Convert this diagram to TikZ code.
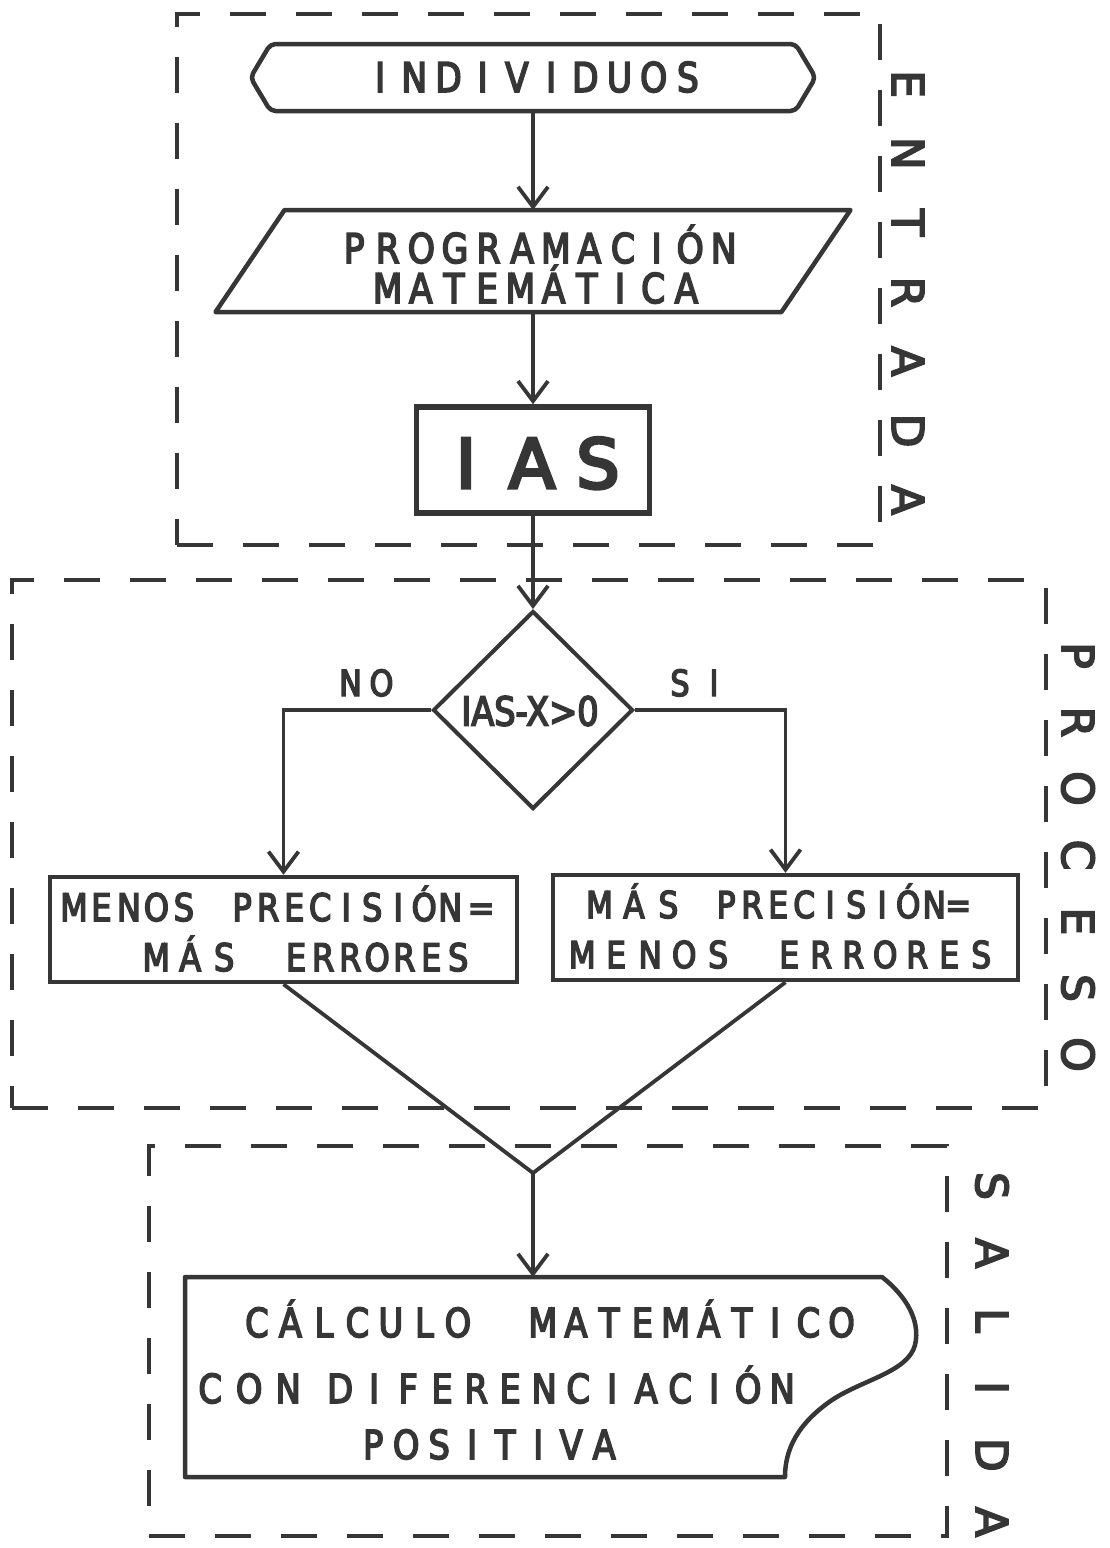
\documentclass[tikz,border=0pt]{standalone}
\usepackage{fontspec}
\usetikzlibrary{arrows.meta,shapes.geometric,calc}
\newfontfamily\lett[FakeStretch=0.84,FakeBold=4]{DejaVu Sans}
\newfontfamily\wide[FakeBold=4]{DejaVu Sans}
\newfontfamily\heavy[FakeBold=5]{DejaVu Sans}
\definecolor{ink}{HTML}{363636}
\newcommand\ev[2]{\def\pitchw{#1}\evloop#2\relax}
\def\evloop#1{\ifx#1\relax\else\hbox to \pitchw{\hss#1\hss}\expandafter\evloop\fi}
\tikzset{
  shapeline/.style={draw=ink, line width=4.5pt, line join=round},
  conn/.style={draw=ink, line width=3.8pt, -{Straight Barb[length=20pt,width=30pt]}},
  plain/.style={draw=ink, line width=3.8pt},
  dashbox/.style={draw=ink, line width=3.2pt, dash pattern=on 36pt off 30pt, inner sep=0pt},
  ghost/.style={inner sep=0pt, outer sep=0pt},
  txt/.style={inner sep=0pt, text=ink},
  vlabel/.style={rotate=-90, inner sep=0pt, text=ink, font=\wide\fontsize{44}{44}\selectfont},
}
\begin{document}
\begin{tikzpicture}[x=1pt, y=-1pt]
\useasboundingbox (0,0) rectangle (1110,1548);
\fill[white] (0,0) rectangle (1110,1548);

% regions
\node[dashbox, minimum width=703pt, minimum height=531pt] (entrada) at (528.5,279.5) {};
\node[dashbox, minimum width=1034pt, minimum height=528pt] (proceso) at (529,844) {};
\node[dashbox, minimum width=798pt, minimum height=390pt] (salida) at (548,1341) {};
\node[vlabel] (entradalbl) at (908,292) {\ev{69.3pt}{ENTRADA}};
\node[vlabel] (procesolbl) at (1078,855) {\ev{66.5pt}{PROCESO}};
\node[vlabel] (salidalbl) at (992,1354) {\ev{67.2pt}{SALIDA}};

% terminator
\node[ghost, minimum width=565pt, minimum height=67pt] (indiv) at (533,77.5) {};
\draw[shapeline, rounded corners=5pt] (indiv.west) -- ($(indiv.north west)+(20,0)$) -- ($(indiv.north east)+(-20,0)$) -- (indiv.east) -- ($(indiv.south east)+(-20,0)$) -- ($(indiv.south west)+(20,0)$) -- cycle;
\node[txt, anchor=base, font=\lett\fontsize{41}{41}\selectfont] (indivtxt) at (534,92) {\ev{34.2pt}{INDIVIDUOS}};

% parallelogram
\node[ghost, minimum width=635pt, minimum height=102pt] (prog) at (533,261) {};
\draw[shapeline] (prog.south west) -- ($(prog.north west)+(69,0)$) -- (prog.north east) -- ($(prog.south east)+(-69,0)$) -- cycle;
\node[txt, anchor=base, font=\lett\fontsize{41}{41}\selectfont] (progtxt1) at (539,263) {\ev{33.6pt}{PROGRAMACIÓN}};
\node[txt, anchor=base, font=\lett\fontsize{41}{41}\selectfont] (progtxt2) at (537,303) {\ev{33.2pt}{MATEMÁTICA}};

% IAS
\node[draw=ink, line width=5.5pt, minimum width=233pt, minimum height=106pt, inner sep=0pt] (ias) at (533,460) {};
\node[txt, anchor=base, font=\heavy\fontsize{68}{68}\selectfont] (iastxt) at (532,488) {\ev{66pt}{IAS}};

% decision
\node[diamond, draw=ink, line width=4pt, minimum width=200pt, minimum height=198pt, inner sep=0pt] (dec) at (533,710) {};
\node[txt, font=\lett\fontsize{40}{40}\selectfont] (dectxt) at (530,711) {IAS-X>0};
\node[txt, anchor=base, font=\lett\fontsize{36}{36}\selectfont] (no) at (366,696) {\ev{31pt}{NO}};
\node[txt, anchor=base, font=\lett\fontsize{36}{36}\selectfont] (si) at (697,696) {\ev{34pt}{SI}};

% result boxes
\node[draw=ink, line width=4.5pt, minimum width=467pt, minimum height=105pt, inner sep=0pt] (left) at (283.5,929.5) {};
\node[draw=ink, line width=4.5pt, minimum width=465pt, minimum height=105pt, inner sep=0pt] (right) at (785.5,927.5) {};
\node[txt, anchor=base west, font=\lett\fontsize{38}{38}\selectfont] (lefttxt1) at (60,921) {\ev{27.5pt}{MENOS}\hspace{31.5pt}\ev{26pt}{PRECISIÓN}\hspace{4pt}\ev{28pt}{=}};
\node[txt, anchor=base west, font=\lett\fontsize{38}{38}\selectfont] (lefttxt2) at (139,971) {\ev{34pt}{MÁS}\hspace{41.5pt}\ev{27pt}{ERRORES}};
\node[txt, anchor=base west, font=\lett\fontsize{37}{37}\selectfont] (righttxt1) at (582,918) {\ev{34.5pt}{MÁS}\hspace{27.5pt}\ev{26pt}{PRECISIÓN}\hspace{-3pt}\ev{28pt}{=}};
\node[txt, anchor=base west, font=\lett\fontsize{37}{37}\selectfont] (righttxt2) at (565,968) {\ev{34pt}{MENOS}\hspace{38pt}\ev{32pt}{ERRORES}};

% document
\node[ghost, minimum width=696pt, minimum height=200pt] (calc) at (533,1377) {};
\draw[shapeline] (calc.north west) -- (882,1277) .. controls (905,1295) and (921,1320) .. (915,1345) .. controls (908,1372) and (862,1380) .. (832,1400) .. controls (797,1424) and (785,1450) .. (785,1477) -- (calc.south west) -- cycle;
\node[txt, anchor=base west, font=\lett\fontsize{40}{40}\selectfont] (calctxt1) at (240,1337) {\ev{33.5pt}{CÁLCULO}\hspace{51.5pt}\ev{33.2pt}{MATEMÁTICO}};
\node[txt, anchor=base west, font=\lett\fontsize{40}{40}\selectfont] (calctxt2) at (190.5,1403) {\ev{39pt}{CON}\hspace{15.5pt}\ev{34pt}{DIFERENCIACIÓN}};
\node[txt, anchor=base west, font=\lett\fontsize{40}{40}\selectfont] (calctxt3) at (356.5,1459) {\ev{33pt}{POSITIVA}};

% connectors
\draw[conn] (indiv.south) -- (prog.north);
\draw[conn] (prog.south) -- (ias.north);
\draw[conn] (ias.south) -- (dec.north);
\draw[conn] (dec.west) -| (left.north);
\draw[conn] (dec.east) -| (right.north);
\coordinate (merge) at (533,1173);
\draw[plain] (left.south) -- (merge);
\draw[plain] (right.south) -- (merge);
\draw[conn] (merge) -- (calc.north);
\end{tikzpicture}
\end{document}
